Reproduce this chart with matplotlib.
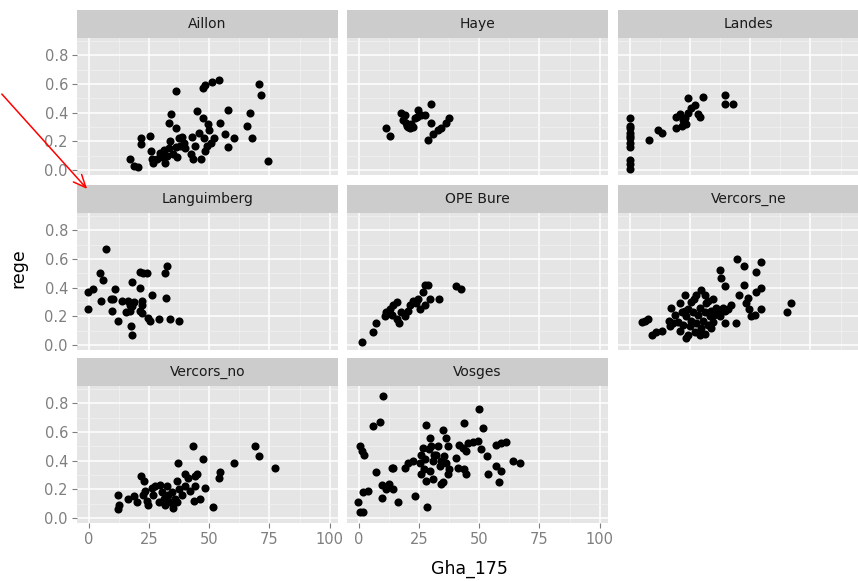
import numpy as np
import matplotlib
matplotlib.use("Agg")
import matplotlib.pyplot as plt

# facet names in display order
sites = ["Aillon", "Haye", "Landes", "Languimberg", "OPE Bure",
         "Vercors_ne", "Vercors_no", "Vosges"]

aillon_x = [36.3, 47.2, 48.3, 51.1, 53.9, 70.6, 71.3, 34.2, 33.3, 36.3, 44.9, 47.4,
            49.4, 49.7, 54.6, 57.6, 56.7, 60.4, 57.6, 51.8, 50.7, 49.0, 48.3, 46.7,
            67.1, 65.7, 67.8, 74.3, 25.4, 21.7, 21.7, 17.1, 18.5, 20.3, 25.8, 26.1,
            26.8, 29.6, 30.3, 31.4, 32.4, 33.3, 33.8, 35.1, 36.5, 36.3, 37.2, 38.6,
            39.3, 37.9, 40.0, 42.5, 43.1, 44.2, 42.8, 45.8, 47.6, 28.2, 31.0]
aillon_y = [0.55, 0.57, 0.59, 0.61, 0.63, 0.60, 0.52, 0.39, 0.33, 0.29, 0.41, 0.36,
            0.32, 0.28, 0.33, 0.42, 0.25, 0.22, 0.16, 0.22, 0.19, 0.17, 0.13, 0.08,
            0.40, 0.31, 0.22, 0.06, 0.24, 0.22, 0.18, 0.08, 0.03, 0.02, 0.13, 0.08,
            0.05, 0.12, 0.09, 0.05, 0.10, 0.15, 0.20, 0.11, 0.09, 0.16, 0.22, 0.23,
            0.19, 0.17, 0.15, 0.11, 0.08, 0.17, 0.23, 0.26, 0.22, 0.08, 0.14]

haye_x = [11.4, 12.8, 17.4, 19.0, 19.7, 20.4, 21.8, 23.1, 24.5, 25.9, 29.8, 29.8,
          28.6, 30.7, 34.2, 36.2, 37.6, 18.3, 21.1, 24.0, 32.8, 27.3, 20.0, 22.5]
haye_y = [0.29, 0.24, 0.40, 0.38, 0.33, 0.30, 0.32, 0.36, 0.42, 0.38, 0.46, 0.33,
          0.21, 0.25, 0.29, 0.33, 0.36, 0.35, 0.29, 0.37, 0.28, 0.38, 0.31, 0.30]

landes_x = [0, 0, 0, 0, 0, 0, 0, 0, 0, 0, 0, 8.0, 11.7, 13.3, 19.3, 19.3, 20.7,
            22.0, 23.4, 24.1, 25.5, 24.1, 26.9, 28.2, 30.3, 29.0, 23.0, 39.3, 39.3,
            42.7, 21.5]
landes_y = [0.36, 0.31, 0.29, 0.26, 0.24, 0.22, 0.19, 0.16, 0.07, 0.04, 0.01, 0.21,
            0.28, 0.26, 0.29, 0.37, 0.39, 0.35, 0.32, 0.40, 0.43, 0.50, 0.45, 0.39,
            0.51, 0.37, 0.36, 0.52, 0.46, 0.46, 0.31]

languimberg_x = [7.1, 4.6, 5.7, 1.8, -0.3, -0.3, 4.9, 10.8, 9.0, 10.1, 9.4, 12.2,
                 13.6, 16.4, 17.1, 17.1, 17.8, 18.0, 21.0, 21.3, 22.6, 24.0, 22.0,
                 22.0, 21.3, 22.0, 24.7, 26.1, 25.4, 29.2, 32.6, 31.7, 32.1, 33.5,
                 37.6, 17.4, 17.8, 15.3, 18.5]
languimberg_y = [0.67, 0.50, 0.45, 0.39, 0.37, 0.25, 0.31, 0.39, 0.32, 0.32, 0.24,
                 0.17, 0.31, 0.31, 0.28, 0.24, 0.44, 0.27, 0.40, 0.51, 0.50, 0.50,
                 0.31, 0.28, 0.24, 0.22, 0.19, 0.35, 0.17, 0.18, 0.55, 0.50, 0.33,
                 0.18, 0.17, 0.13, 0.07, 0.23, 0.30]

ope_x = [1.1, 5.7, 7.0, 10.7, 11.4, 12.8, 14.2, 15.6, 13.5, 15.6, 16.7, 17.6, 19.0,
         20.4, 21.1, 22.4, 24.5, 25.2, 27.3, 26.6, 27.3, 28.6, 29.6, 33.2, 40.4,
         42.4, 12.0, 23.5]
ope_y = [0.02, 0.09, 0.15, 0.20, 0.23, 0.25, 0.28, 0.30, 0.21, 0.18, 0.15, 0.23,
         0.20, 0.24, 0.28, 0.31, 0.32, 0.25, 0.28, 0.37, 0.42, 0.42, 0.32, 0.32,
         0.41, 0.39, 0.22, 0.29]

vercors_ne_x = [44.5, 47.5, 54.4, 52.3, 37.2, 37.9, 39.3, 47.5, 54.4, 52.3, 45.5,
                48.9, 48.2, 49.6, 54.4, 50.3, 52.0, 66.8, 65.4, 44.1, 39.3, 6.2, 7.6,
                4.8, 9.0, 11.0, 13.1, 16.5, 17.2, 20.7, 22.7, 29.6, 31.0, 34.4, 26.7,
                42.0, 39.3, 36.5, 24.1, 23.4, 18.6, 19.9, 21.4, 22.0, 23.4, 24.1,
                24.8, 25.5, 26.2, 26.9, 27.6, 28.2, 28.9, 29.6, 30.3, 31.0, 31.7,
                32.4, 33.1, 33.8, 34.4, 35.1, 35.8, 37.2, 38.6, 40.6, 20.7, 22.7,
                25.5, 27.6, 32.4, 28.9, 31.0, 33.8, 17.9, 16.0]
vercors_ne_y = [0.60, 0.55, 0.58, 0.51, 0.52, 0.47, 0.41, 0.42, 0.40, 0.37, 0.35,
                0.33, 0.29, 0.25, 0.25, 0.20, 0.21, 0.29, 0.23, 0.15, 0.15, 0.17,
                0.18, 0.16, 0.07, 0.09, 0.10, 0.13, 0.26, 0.29, 0.35, 0.38, 0.35,
                0.32, 0.32, 0.28, 0.24, 0.23, 0.07, 0.05, 0.21, 0.16, 0.23, 0.14,
                0.20, 0.25, 0.13, 0.17, 0.23, 0.09, 0.15, 0.21, 0.26, 0.12, 0.17,
                0.23, 0.29, 0.14, 0.20, 0.24, 0.16, 0.21, 0.26, 0.20, 0.26, 0.25,
                0.10, 0.24, 0.30, 0.35, 0.31, 0.07, 0.08, 0.12, 0.15, 0.17]

vercors_no_x = [43.1, 69.2, 70.6, 77.5, 60.1, 47.2, 37.0, 54.6, 53.9, 44.9, 44.0,
                39.7, 41.1, 36.5, 21.7, 23.0, 48.1, 43.5, 46.3, 51.4, 12.2, 12.5,
                12.2, 16.4, 18.5, 19.9, 23.3, 24.0, 24.7, 26.8, 27.5, 28.9, 30.3,
                31.0, 31.7, 32.4, 33.0, 33.8, 34.4, 35.1, 35.8, 37.2, 38.6, 40.0,
                42.1, 44.2, 29.6, 26.0, 22.3, 36.5]
vercors_no_y = [0.50, 0.50, 0.43, 0.35, 0.38, 0.41, 0.38, 0.32, 0.28, 0.31, 0.29,
                0.31, 0.28, 0.26, 0.29, 0.26, 0.21, 0.12, 0.13, 0.08, 0.16, 0.09,
                0.06, 0.13, 0.15, 0.11, 0.19, 0.12, 0.09, 0.16, 0.22, 0.11, 0.18,
                0.13, 0.09, 0.22, 0.16, 0.11, 0.18, 0.07, 0.13, 0.20, 0.16, 0.22,
                0.19, 0.22, 0.23, 0.21, 0.16, 0.11]

vosges_x = [10.0, 50.0, 8.7, 5.7, 43.8, 51.4, 27.7, 0.4, 1.1, 2.1, 34.8, 36.2, 29.3,
            30.0, 36.9, 41.7, 43.1, 45.2, 47.2, 49.3, 50.7, 44.5, 56.9, 59.0, 61.0,
            53.4, 56.9, 53.8, 59.0, 58.0, 63.8, 66.8, 40.4, 35.5, 25.9, 27.3, 25.2,
            30.7, 32.1, 33.5, 36.2, 37.6, 36.9, 29.3, 25.9, 28.0, 30.7, 34.2, 35.0,
            43.8, 44.5, 41.0, 20.4, 22.4, 19.0, 14.2, 13.5, 7.0, 9.4, 12.5, 14.2,
            11.4, 9.4, 3.8, 1.8, -0.3, 0.4, 1.8, 16.2, 23.1, 28.2, 26.6, 29.0, 32.8,
            27.0, 34.1, 31.0]
vosges_y = [0.85, 0.76, 0.67, 0.64, 0.66, 0.63, 0.65, 0.50, 0.47, 0.44, 0.61, 0.56,
            0.56, 0.50, 0.50, 0.51, 0.49, 0.52, 0.53, 0.54, 0.48, 0.47, 0.51, 0.52,
            0.53, 0.43, 0.36, 0.31, 0.33, 0.25, 0.40, 0.38, 0.42, 0.43, 0.44, 0.41,
            0.38, 0.40, 0.44, 0.36, 0.38, 0.34, 0.31, 0.33, 0.31, 0.26, 0.27, 0.24,
            0.25, 0.34, 0.31, 0.35, 0.38, 0.40, 0.35, 0.35, 0.35, 0.32, 0.23, 0.24,
            0.20, 0.20, 0.14, 0.19, 0.18, 0.11, 0.04, 0.04, 0.11, 0.15, 0.08, 0.49,
            0.48, 0.50, 0.34, 0.40, 0.44]

data = {
    "Aillon": (aillon_x, aillon_y),
    "Haye": (haye_x, haye_y),
    "Landes": (landes_x, landes_y),
    "Languimberg": (languimberg_x, languimberg_y),
    "OPE Bure": (ope_x, ope_y),
    "Vercors_ne": (vercors_ne_x, vercors_ne_y),
    "Vercors_no": (vercors_no_x, vercors_no_y),
    "Vosges": (vosges_x, vosges_y),
}

W, H = 858, 581
fig = plt.figure(figsize=(W / 100, H / 100), dpi=100)
fig.patch.set_facecolor("white")

def rect(left, top, w, h):
    return [left / W, 1 - (top + h) / H, w / W, h / H]

col_left = [77, 347, 618]
strip_top = [10, 185, 358]
strip_h = 28
panel_h = 137
panel_w = 261

for k, site in enumerate(sites):
    r, c = divmod(k, 3)
    # strip
    sax = fig.add_axes(rect(col_left[c], strip_top[r], panel_w, strip_h))
    sax.set_facecolor("#CCCCCC")
    sax.set_xticks([])
    sax.set_yticks([])
    for s in sax.spines.values():
        s.set_visible(False)
    sax.text(0.5, 0.5, site, ha="center", va="center", fontsize=10,
             color="#1A1A1A", transform=sax.transAxes)

    ax = fig.add_axes(rect(col_left[c], strip_top[r] + strip_h, panel_w, panel_h))
    ax.set_facecolor("#E5E5E5")
    for s in ax.spines.values():
        s.set_visible(False)
    ax.set_xlim(-5, 103.5)
    ax.set_ylim(-0.035, 0.92)
    ax.set_xticks([0, 25, 50, 75, 100])
    ax.set_yticks([0.0, 0.2, 0.4, 0.6, 0.8])
    ax.set_xticks([12.5, 37.5, 62.5, 87.5], minor=True)
    ax.set_yticks([0.1, 0.3, 0.5, 0.7, 0.9], minor=True)
    ax.grid(which="minor", color="#F2F2F2", lw=0.55)
    ax.grid(which="major", color="white", lw=1.1)
    ax.set_axisbelow(True)
    ax.tick_params(which="minor", length=0)
    ax.tick_params(which="major", length=3.5, width=0.8, color="#7F7F7F",
                   labelcolor="#7F7F7F", labelsize=10.5, pad=3)

    if c == 0:
        ax.set_yticklabels(["0.0", "0.2", "0.4", "0.6", "0.8"])
    else:
        ax.tick_params(axis="y", which="major", length=0, labelleft=False)
    if r == 2:
        ax.set_xticklabels(["0", "25", "50", "75", "100"])
    else:
        ax.tick_params(axis="x", which="major", length=0, labelbottom=False)

    x, y = data[site]
    ax.scatter(x, y, s=34, color="black", linewidths=0, zorder=3, clip_on=False)

fig.text(18 / W, 1 - 268 / H, "rege", rotation=90, ha="center", va="center",
         fontsize=12.5, color="black")
fig.text(469 / W, 1 - 569 / H, "Gha_175", ha="center", va="center",
         fontsize=12.5, color="black")

# red annotation arrow
fig.add_artist(matplotlib.patches.FancyArrowPatch(
    (0 / W, 1 - 92 / H), (89 / W, 1 - 191 / H), transform=fig.transFigure,
    arrowstyle="->,head_length=9,head_width=4", color="red", lw=1.1,
    mutation_scale=1))

fig.savefig("out.png", dpi=100)
